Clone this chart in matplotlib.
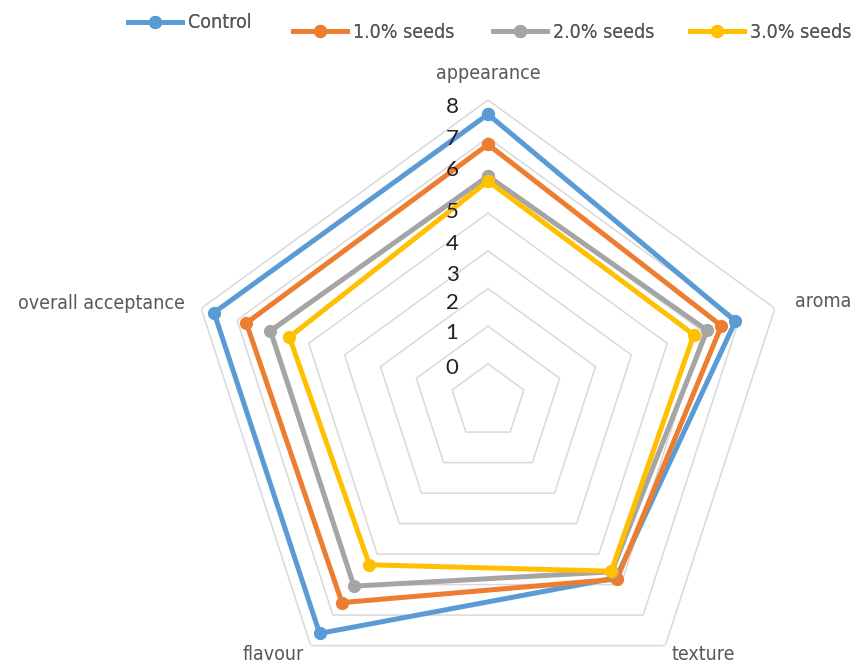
import numpy as np
import matplotlib.pyplot as plt
from matplotlib.transforms import offset_copy

categories = ['appearance', 'aroma', 'texture', 'flavour', 'overall acceptance']
control = [7.62, 6.90, 5.78, 7.60, 7.64]
seeds_1 = [6.82, 6.51, 5.82, 6.59, 6.74]
seeds_2 = [5.98, 6.11, 5.58, 6.05, 6.07]
seeds_3 = [5.85, 5.74, 5.56, 5.35, 5.54]
series = [('Control', control, '#5B9BD5'),
          ('1.0% seeds', seeds_1, '#ED7D31'),
          ('2.0% seeds', seeds_2, '#A5A5A5'),
          ('3.0% seeds', seeds_3, '#FFC000')]
ring_values = [1, 2, 3, 4, 5, 6, 7, 8]
tick_labels = ['0', '1', '2', '3', '4', '5', '6', '7', '8']
# where the value labels sit along the vertical axis (as in the original)
tick_label_r = [0.89, 1.82, 2.62, 3.37, 4.17, 5.04, 6.13, 6.96, 7.81]

narrow = dict(family=['DejaVu Sans'], stretch='condensed')
grey_txt = '#595959'

fig = plt.figure(figsize=(8.53, 6.67), dpi=100)
ax = fig.add_axes([0.2185, -0.0543, 0.7072, 0.9044], projection='polar')
ax.set_theta_offset(np.pi / 2)
ax.set_theta_direction(-1)
ax.set_ylim(0, 8)
ax.grid(False)
ax.spines['polar'].set_visible(False)
ax.set_xticks([])
ax.set_yticks([])
ax.patch.set_alpha(0)

n = len(categories)
theta = np.linspace(0, 2 * np.pi, n, endpoint=False)
theta_closed = np.append(theta, theta[0])

# pentagon grid
for r in ring_values:
    ax.plot(theta_closed, [r] * (n + 1), color='#d9d9d9', lw=1.1, zorder=1)

lines = []
for name, vals, col in series:
    v = np.append(vals, vals[0])
    ln, = ax.plot(theta_closed, v, color=col, lw=3.6, marker='o', ms=8.5,
                  label=name, zorder=3, solid_joinstyle='round')
    lines.append(ln)

# value labels
off = offset_copy(ax.transData, fig=fig, x=-36, y=0, units='dots')
for r, lab in zip(tick_label_r, tick_labels):
    ax.text(0, r, lab, transform=off, ha='center', va='center',
            fontsize=16, family=['Lato', 'DejaVu Sans'], color='#222222')

# category labels
label_pos = [(8.71, 'center', 'center'), (8.55, 'left', 'center'),
             (8.3, 'left', 'center'), (8.3, 'right', 'center'),
             (8.45, 'right', 'center')]
for t, cat, (r, ha, va) in zip(theta, categories, label_pos):
    ax.text(t, r, cat, ha=ha, va=va, fontsize=14, color=grey_txt, **narrow)

# legend, one entry at a time like the original
leg_x = [128, 293, 493, 690]
leg_y = [23, 32, 32, 32]
for ln, x, y in zip(lines, leg_x, leg_y):
    leg = fig.legend(handles=[ln], loc='center left',
                     bbox_to_anchor=(x / 853, 1 - y / 667), frameon=False,
                     prop=dict(size=14, **narrow), handlelength=2.8,
                     handletextpad=0.3, borderpad=0, borderaxespad=0,
                     labelcolor=grey_txt)
    fig.add_artist(leg)

fig.savefig('out.png', dpi=100)
